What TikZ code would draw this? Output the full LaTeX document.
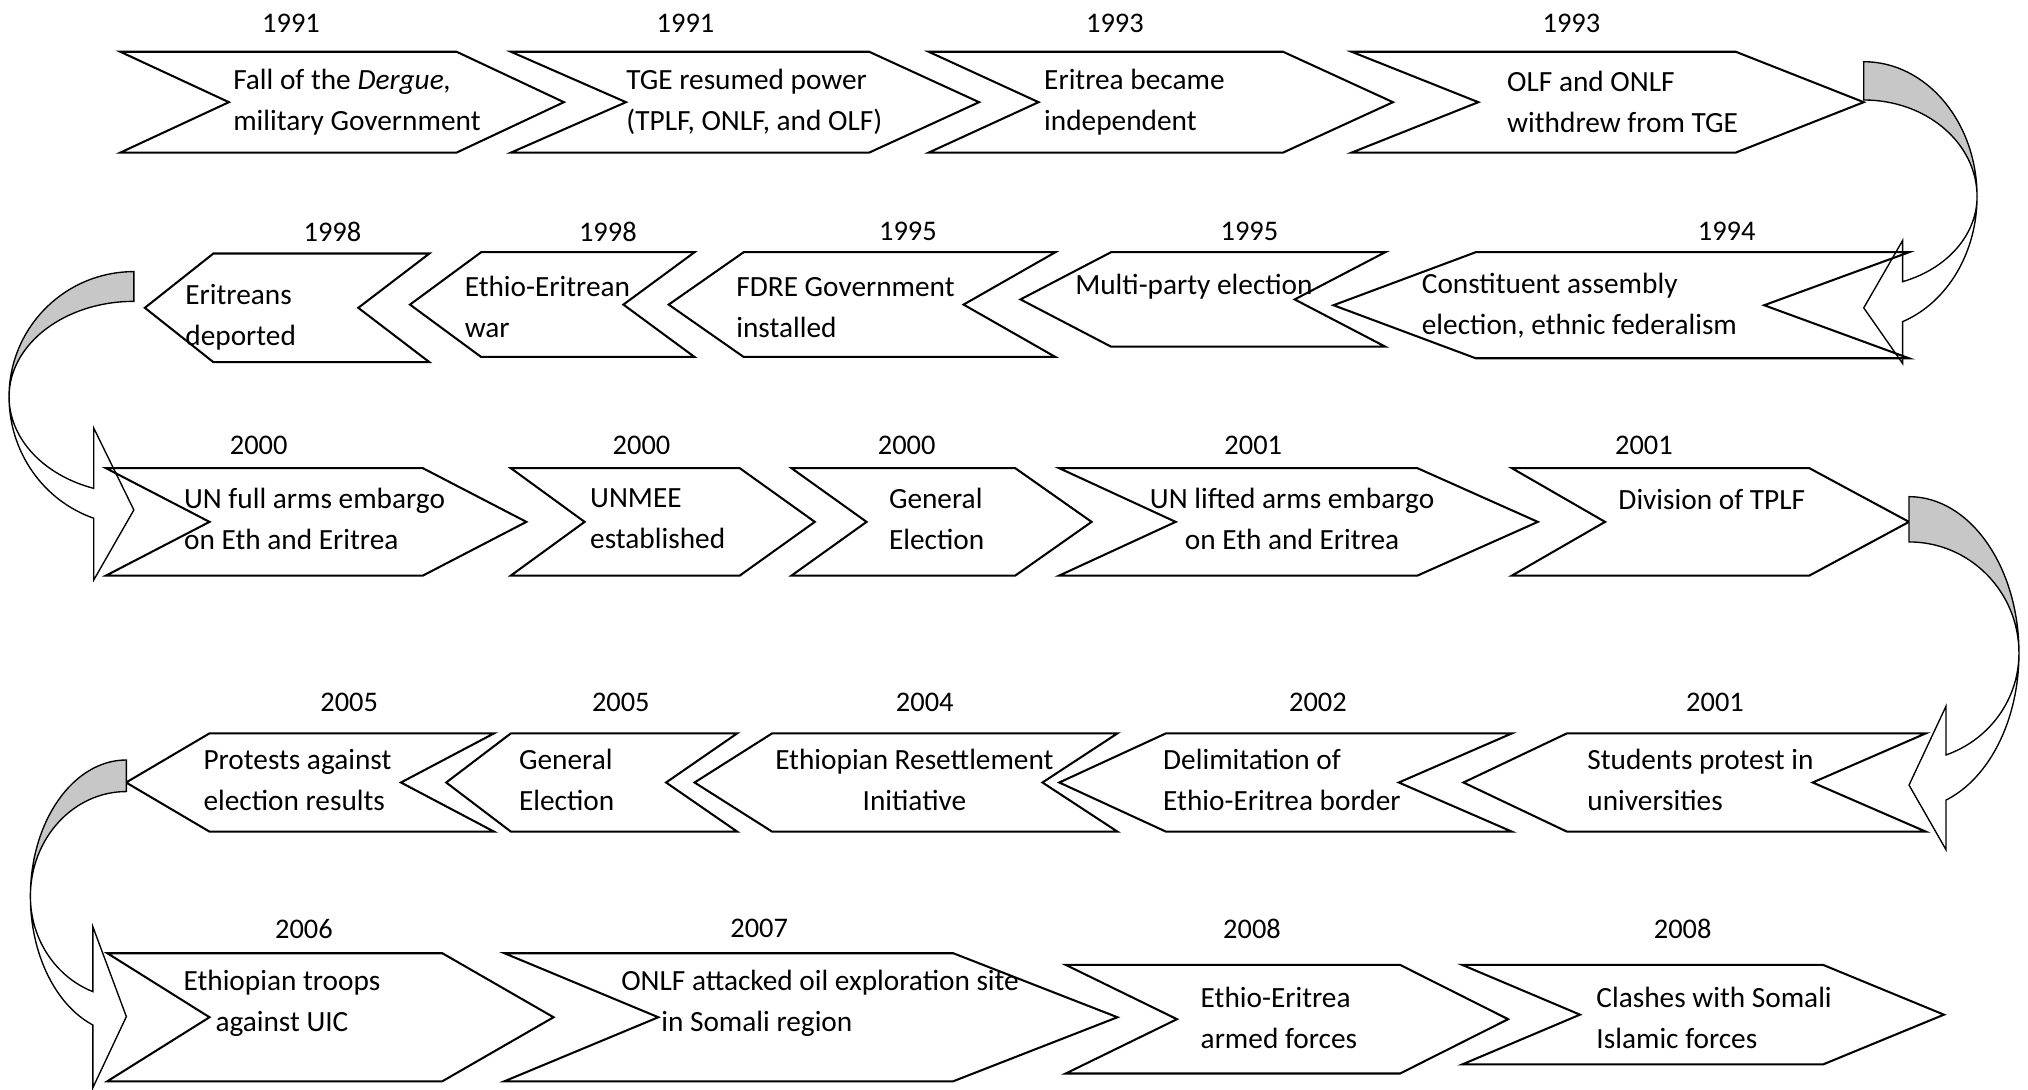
\documentclass[tikz,border=0pt]{standalone}
\usepackage{fontspec}
\setmainfont{Carlito}
\tikzset{
  chev/.style     = {draw=black, line width=0.9pt, fill=white, line join=miter},
  turn/.style     = {draw=black, line width=0.6pt},
  turnfill/.style = {fill=black!22},
  yr/.style       = {font=\fontsize{12.5}{17.6}\selectfont, inner sep=0pt},
  txt/.style      = {font=\fontsize{12.9}{18}\selectfont, inner sep=0pt,
                     align=left, anchor=west},
  ctxt/.style     = {txt, align=center, anchor=center},
}

\begin{document}
\begin{tikzpicture}[x=0.02cm, y=-0.02cm]
  \useasboundingbox (0,0) rectangle (1568,842);

  % rows pointing right: top/bottom/left/notch/corner/tip
  \foreach \tp/\bt/\xa/\xb/\xc/\xd in {40/118/93/177/353/436, 40/118/395/484/672/757,
      40/118/718/803/992/1077, 40/118/1045/1143/1342/1441,
      362/445/82/162/327/407, 362/445/395/452/572/630, 362/445/612/670/785/844,
      362/445/819/909/1096/1189, 362/445/1169/1241/1399/1476,
      737/836/83/162/342/428, 737/836/390/509/737/864,
      746/830/824/910/1082.5/1166, 746/823/1130.5/1221.6/1409.5/1503}
    \draw[chev] (\xa,\tp) -- (\xc,\tp) -- (\xd,{(\tp+\bt)/2}) -- (\xc,\bt)
      -- (\xa,\bt) -- (\xb,{(\tp+\bt)/2}) -- cycle;

  % rows pointing left: top/bottom/tip/corner/notch/right
  \foreach \tp/\bt/\xa/\xb/\xc/\xd in {196/280/112/165/277/332, 195/276/317/372/482/537,
      195/276/517/575/745/816, 195/268/789/859/1001/1071, 195/277/1031/1141/1364/1476,
      567/643/97.5/162/310/382, 567/643/345/395/515/570, 567/643/537/597/806/864,
      567/643/819/901.5/1081.5/1169, 567/643/1131.5/1211.5/1401.5/1489}
    \draw[chev] (\xa,{(\tp+\bt)/2}) -- (\xb,\tp) -- (\xd,\tp) -- (\xc,{(\tp+\bt)/2})
      -- (\xd,\bt) -- (\xb,\bt) -- cycle;

  % turn, row 1 to row 2
  \fill[turnfill] (1441,47.7) .. controls (1489.4,47.7) and (1528.6,94.4) .. (1528.6,152)
    .. controls (1528.6,110.7) and (1489.4,77.3) .. (1441,77.3) -- cycle;
  \draw[turn] (1441,47.7) .. controls (1489.4,47.7) and (1528.6,94.4) .. (1528.6,152)
    .. controls (1528.6,195.3) and (1505.6,233.9) .. (1471,248.7)
    -- (1471,281) -- (1441,238) -- (1471,186) -- (1471,217.8)
    .. controls (1505.6,207.8) and (1528.6,181.4) .. (1528.6,152)
    .. controls (1528.6,110.7) and (1489.4,77.3) .. (1441,77.3) -- cycle;

  % turn, row 2 to row 3
  \fill[turnfill] (103.5,210) .. controls (50.2,210) and (7,253.3) .. (7,306.7)
    .. controls (7,266) and (50.2,233) .. (103.5,233) -- cycle;
  \draw[turn] (103.5,210) .. controls (50.2,210) and (7,253.3) .. (7,306.7)
    .. controls (7,349.3) and (33.3,387) .. (72.5,400.7)
    -- (72.5,448.4) -- (103.5,394.3) -- (72.5,331) -- (72.5,377.6)
    .. controls (33.3,367.3) and (7,338.8) .. (7,306.7)
    .. controls (7,266) and (50.2,233) .. (103.5,233) -- cycle;

  % turn, row 3 to row 4
  \fill[turnfill] (1476,384) .. controls (1523,384) and (1561,438.2) .. (1561,505)
    .. controls (1561,457.5) and (1523,419) .. (1476,419) -- cycle;
  \draw[turn] (1476,384) .. controls (1523,384) and (1561,438.2) .. (1561,505)
    .. controls (1561,556) and (1538.5,601.5) .. (1504.6,618.6)
    -- (1504.6,657) -- (1476,607) -- (1504.6,546) -- (1504.6,583.7)
    .. controls (1538.5,571.8) and (1561,540.3) .. (1561,505)
    .. controls (1561,457.5) and (1523,419) .. (1476,419) -- cycle;

  % turn, row 4 to row 5
  \fill[turnfill] (97.7,587.6) .. controls (56.7,587.6) and (23.5,634.8) .. (23.5,693)
    .. controls (23.5,648.3) and (56.7,612) .. (97.7,612) -- cycle;
  \draw[turn] (97.7,587.6) .. controls (56.7,587.6) and (23.5,634.8) .. (23.5,693)
    .. controls (23.5,737.4) and (42.8,777) .. (71.8,792.5)
    -- (71.8,841) -- (97.7,786) -- (71.8,716.5) -- (71.8,766.7)
    .. controls (42.8,755.2) and (23.5,725.9) .. (23.5,693)
    .. controls (23.5,648.3) and (56.7,612) .. (97.7,612) -- cycle;

  % years
  \foreach \x/\t [count=\i] in {225/1991, 530/1991, 862/1993, 1215/1993}
    \node[yr] (ya\i) at (\x,18) {\t};
  \foreach \x/\t [count=\i] in {257/1998, 470/1998, 702/1995, 966/1995, 1335/1994}
    \node[yr] (yb\i) at (\x,179) {\t};
  \foreach \x/\t [count=\i] in {200/2000, 496/2000, 701/2000, 969/2001, 1271/2001}
    \node[yr] (yc\i) at (\x,344) {\t};
  \foreach \x/\t [count=\i] in {270/2005, 480/2005, 715/2004, 1019/2002, 1326/2001}
    \node[yr] (yd\i) at (\x,543) {\t};
  \foreach \x/\t [count=\i] in {235/2006, 587/2007, 968/2008, 1301/2008}
    \node[yr] (ye\i) at (\x,718) {\t};

  % events
  \node[txt] (derg) at (180,79) {Fall of the \textit{Dergue,}\\military Government};
  \node[txt] (tge) at (484,79) {TGE resumed power\\(TPLF, ONLF, and OLF)};
  \node[txt] (indep) at (807,79) {Eritrea became\\independent};
  \node[txt] (olf) at (1165,79) {OLF and ONLF\\withdrew from TGE};

  \node[txt] (depo) at (143,245.5) {Eritreans\\deported};
  \node[txt] (war) at (359,237.5) {Ethio-Eritrean\\war};
  \node[txt] (fdre) at (569,237.5) {FDRE Government\\installed};
  \node[txt] (multi) at (831,222) {Multi-party election};
  \node[txt] (const) at (1099,236.5) {Constituent assembly\\election, ethnic federalism};

  \node[txt] (embg) at (142,401) {UN full arms embargo\\on Eth and Eritrea};
  \node[txt] (unmee) at (456,401) {UNMEE\\established};
  \node[txt] (gen) at (687,401) {General\\Election};
  \node[ctxt] (lift) at (999,401) {UN lifted arms embargo\\on Eth and Eritrea};
  \node[txt] (tplf) at (1251,386) {Division of TPLF};

  \node[txt] (prot) at (157,603) {Protests against\\election results};
  \node[txt] (gen2) at (401,603) {General\\Election};
  \node[ctxt] (resett) at (707,603) {Ethiopian Resettlement\\Initiative};
  \node[txt] (delim) at (899,603) {Delimitation of\\Ethio-Eritrea border};
  \node[txt] (stud) at (1227,603) {Students protest in\\universities};

  \node[ctxt] (uic) at (218,776) {Ethiopian troops\\against UIC};
  \node[txt] (oil) at (480,776) {ONLF attacked oil exploration site\\\hspace*{0.62cm}in Somali region};
  \node[txt] (armed) at (928,787) {Ethio-Eritrea\\armed forces};
  \node[txt] (somali) at (1234,787) {Clashes with Somali\\Islamic forces};
\end{tikzpicture}
\end{document}
